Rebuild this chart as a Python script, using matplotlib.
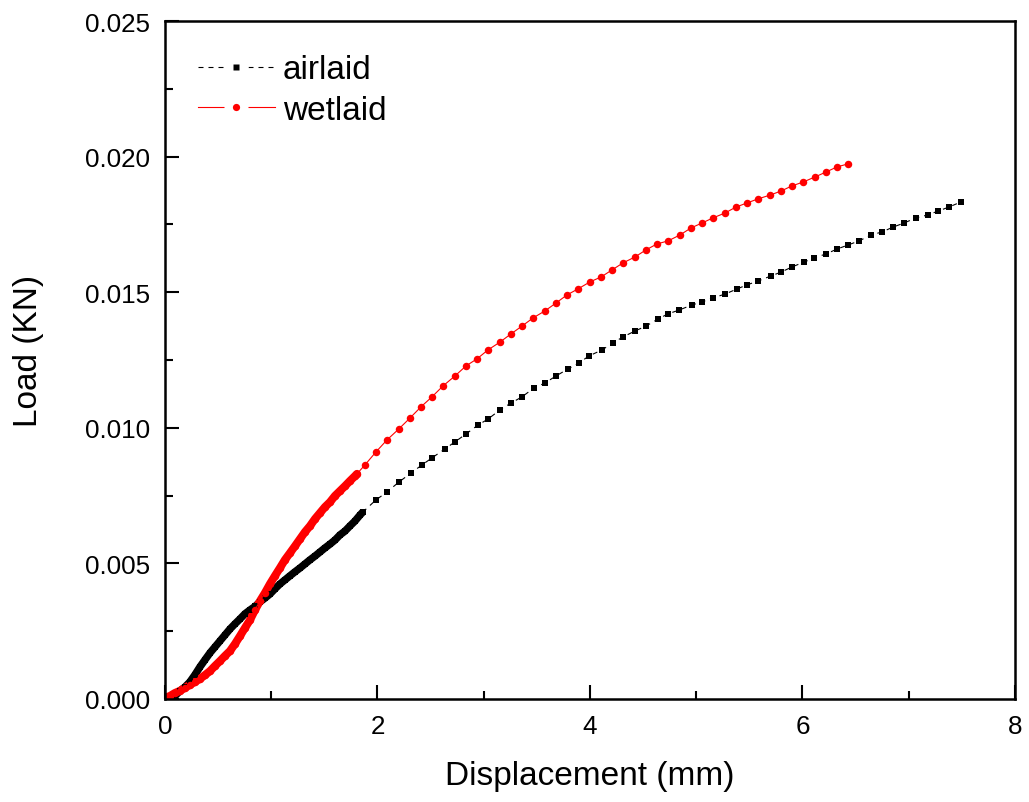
#!/usr/bin/env python3
# load vs displacement curves for the airlaid and wetlaid sheets

import matplotlib
matplotlib.use('Agg')
import matplotlib.pyplot as plt
from matplotlib.lines import Line2D
from matplotlib.legend_handler import HandlerTuple
from matplotlib.ticker import MultipleLocator, FormatStrFormatter

plt.rcParams['font.family'] = ['Liberation Sans', 'DejaVu Sans']

# displacement (mm) and load (KN)
airlaid_x = [0.047, 0.094, 0.141, 0.188, 0.235, 0.282, 0.329, 0.376, 0.424, 0.471,
             0.518, 0.565, 0.612, 0.659, 0.706, 0.753, 0.800, 0.847, 0.894, 0.941,
             0.988, 1.035, 1.082, 1.129, 1.176, 1.224, 1.271, 1.318, 1.365, 1.412,
             1.459, 1.506, 1.553, 1.600, 1.647, 1.694, 1.741, 1.788, 1.835, 1.864,
             1.986, 2.089, 2.202, 2.315, 2.419, 2.513, 2.635, 2.729, 2.833, 2.946,
             3.040, 3.153, 3.256, 3.360, 3.473, 3.576, 3.680, 3.793, 3.896, 3.991,
             4.113, 4.216, 4.311, 4.424, 4.527, 4.640, 4.734, 4.838, 4.960, 5.054,
             5.158, 5.271, 5.384, 5.478, 5.581, 5.704, 5.798, 5.901, 6.014, 6.108,
             6.221, 6.325, 6.428, 6.532, 6.645, 6.748, 6.852, 6.955, 7.068, 7.181,
             7.275, 7.379, 7.492]
airlaid_y = [0.00000, 0.00011, 0.00030, 0.00044, 0.00063, 0.00089, 0.00118, 0.00144, 0.00170, 0.00192,
             0.00214, 0.00236, 0.00258, 0.00277, 0.00295, 0.00314, 0.00328, 0.00341, 0.00358, 0.00372,
             0.00387, 0.00406, 0.00424, 0.00439, 0.00454, 0.00469, 0.00483, 0.00498, 0.00513, 0.00527,
             0.00542, 0.00557, 0.00571, 0.00586, 0.00605, 0.00619, 0.00638, 0.00656, 0.00678, 0.00690,
             0.00734, 0.00763, 0.00800, 0.00833, 0.00863, 0.00889, 0.00922, 0.00948, 0.00977, 0.01010,
             0.01032, 0.01066, 0.01091, 0.01114, 0.01147, 0.01165, 0.01191, 0.01217, 0.01239, 0.01265,
             0.01287, 0.01313, 0.01335, 0.01357, 0.01375, 0.01401, 0.01420, 0.01434, 0.01453, 0.01464,
             0.01479, 0.01493, 0.01512, 0.01527, 0.01541, 0.01560, 0.01574, 0.01593, 0.01611, 0.01626,
             0.01641, 0.01659, 0.01674, 0.01689, 0.01711, 0.01722, 0.01740, 0.01755, 0.01774, 0.01785,
             0.01799, 0.01814, 0.01833]

wetlaid_x = [0.000, 0.047, 0.094, 0.141, 0.188, 0.235, 0.282, 0.329, 0.376, 0.424,
             0.471, 0.518, 0.565, 0.612, 0.659, 0.706, 0.753, 0.800, 0.847, 0.894,
             0.941, 0.988, 1.035, 1.082, 1.129, 1.176, 1.224, 1.271, 1.318, 1.365,
             1.412, 1.459, 1.506, 1.553, 1.600, 1.647, 1.694, 1.741, 1.788, 1.807,
             1.882, 1.986, 2.089, 2.202, 2.306, 2.409, 2.513, 2.616, 2.729, 2.833,
             2.936, 3.040, 3.153, 3.256, 3.360, 3.464, 3.576, 3.680, 3.784, 3.887,
             4.000, 4.104, 4.207, 4.311, 4.424, 4.527, 4.631, 4.734, 4.847, 4.951,
             5.054, 5.158, 5.271, 5.374, 5.478, 5.581, 5.694, 5.798, 5.901, 6.005,
             6.118, 6.221, 6.325, 6.428]
wetlaid_y = [0.00004, 0.00011, 0.00022, 0.00030, 0.00041, 0.00052, 0.00063, 0.00074, 0.00088, 0.00103,
             0.00122, 0.00140, 0.00159, 0.00177, 0.00203, 0.00232, 0.00262, 0.00291, 0.00328, 0.00361,
             0.00391, 0.00424, 0.00454, 0.00483, 0.00513, 0.00538, 0.00564, 0.00590, 0.00616, 0.00638,
             0.00664, 0.00686, 0.00708, 0.00726, 0.00749, 0.00767, 0.00785, 0.00804, 0.00822, 0.00830,
             0.00863, 0.00911, 0.00955, 0.00996, 0.01036, 0.01077, 0.01114, 0.01154, 0.01191, 0.01228,
             0.01254, 0.01287, 0.01316, 0.01346, 0.01375, 0.01405, 0.01431, 0.01460, 0.01490, 0.01512,
             0.01538, 0.01556, 0.01582, 0.01608, 0.01630, 0.01656, 0.01678, 0.01689, 0.01711, 0.01737,
             0.01755, 0.01774, 0.01792, 0.01814, 0.01829, 0.01844, 0.01858, 0.01873, 0.01892, 0.01906,
             0.01925, 0.01943, 0.01962, 0.01973]

# the first stretch of each test was logged very densely
n_dense_air = 40
n_dense_wet = 40

fig = plt.figure(figsize=(10.29, 8.03), dpi=100)
ax = fig.add_axes([0.1603, 0.1283, 0.8261, 0.8443])

# dense logging shows up as a solid band of symbols
ax.plot(airlaid_x[:n_dense_air], airlaid_y[:n_dense_air], color='black',
        lw=5.4, solid_capstyle='butt')
ax.plot(wetlaid_x[:n_dense_wet], wetlaid_y[:n_dense_wet], color='red',
        lw=5.8, solid_capstyle='round')

ax.plot(airlaid_x, airlaid_y, color='black', lw=0.8, dashes=(4.5, 4.5),
        marker='s', markersize=4.7, markeredgewidth=0)
ax.plot(wetlaid_x, wetlaid_y, color='red', lw=0.8, linestyle='-',
        marker='o', markersize=5.4, markeredgewidth=0)

ax.set_xlim(0, 8)
ax.set_ylim(0, 0.025)
ax.xaxis.set_major_locator(MultipleLocator(2))
ax.xaxis.set_minor_locator(MultipleLocator(1))
ax.yaxis.set_major_locator(MultipleLocator(0.005))
ax.yaxis.set_minor_locator(MultipleLocator(0.0025))
ax.yaxis.set_major_formatter(FormatStrFormatter('%.3f'))

ax.tick_params(which='both', direction='in', top=False, right=False,
               width=1.5, labelsize=18.7)
ax.tick_params(which='major', length=10)
ax.tick_params(which='minor', length=5.5)
ax.tick_params(axis='x', which='major', pad=11)
ax.tick_params(axis='y', which='major', pad=11)
for sp in ax.spines.values():
    sp.set_linewidth(1.8)

ax.set_xlabel('Displacement (mm)', fontsize=24, labelpad=16)
ax.set_ylabel('Load (KN)', fontsize=24)
ax.yaxis.set_label_coords(-0.142, 0.515)

# origin-style legend keys: line broken around the symbol
def key(color, marker, ms, **line_kw):
    line = Line2D([], [], color=color, lw=0.8, **line_kw)
    gap = Line2D([], [], ls='none', marker='s', ms=17, mfc='white', mec='none')
    mark = Line2D([], [], ls='none', marker=marker, ms=ms, mfc=color, mec='none')
    return (line, gap, mark)

handles = [key('black', 's', 4.6, dashes=(4.5, 4.5)),
           key('red', 'o', 5.2, linestyle='-')]
ax.legend(handles, ['airlaid', 'wetlaid'],
          handler_map={tuple: HandlerTuple(ndivide=1, pad=0)},
          loc='upper left', frameon=False, fontsize=24, numpoints=1,
          handlelength=2.3, handletextpad=0.24, labelspacing=0.29,
          borderaxespad=0.0, bbox_to_anchor=(0.0233, 0.9705))

fig.savefig('out.png', dpi=100)
